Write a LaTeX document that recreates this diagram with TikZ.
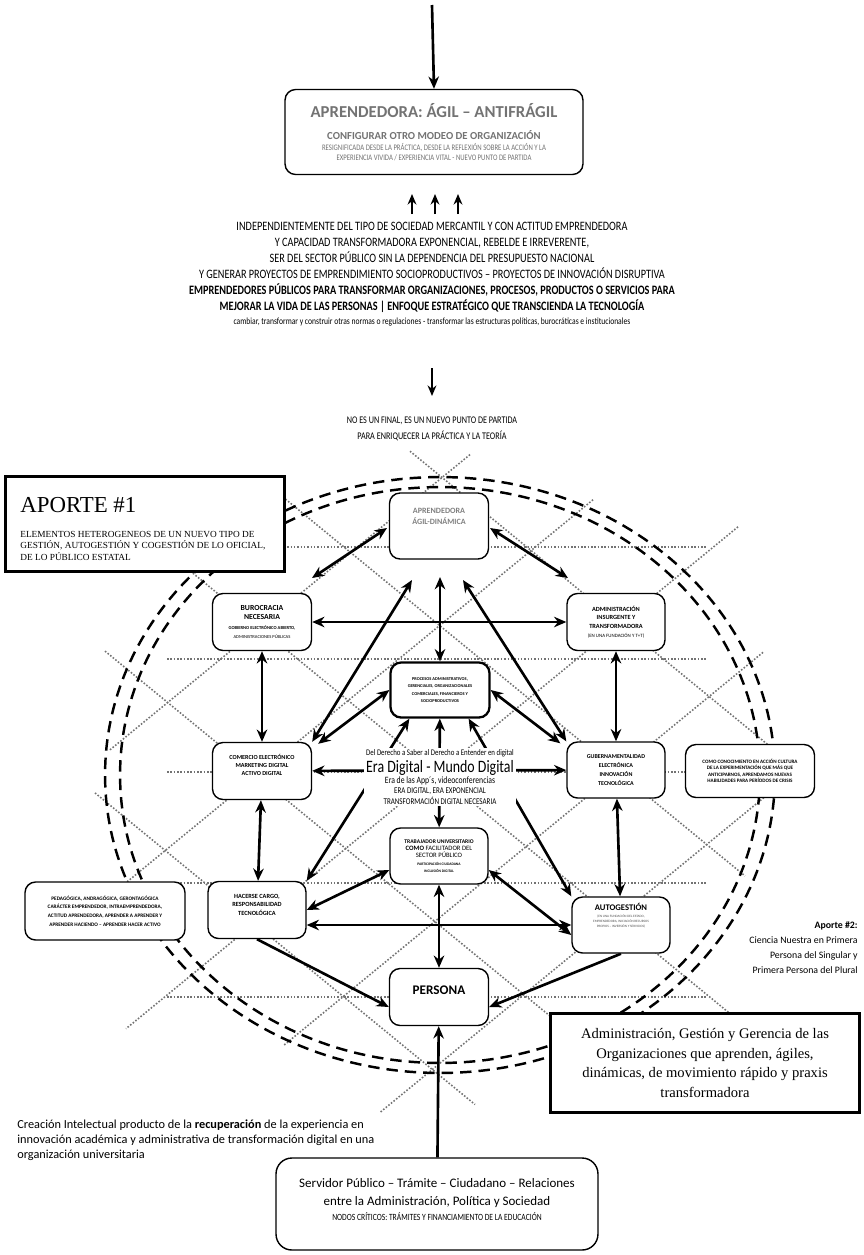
\documentclass[tikz,border=0pt]{standalone}
\usepackage{fontspec}
\usepackage{graphicx}
\setmainfont{Carlito}
\newfontfamily\serifw{Liberation Serif}
\usetikzlibrary{positioning,arrows.meta,backgrounds}
\newcommand{\fs}[2]{\fontsize{#1}{#2}\selectfont}
\newcommand{\sx}[1]{\scalebox{0.8}[1]{#1}}

\tikzset{
  box/.style={draw, rounded corners=6pt, fill=white, line width=0.8pt, align=center, inner sep=1pt},
  frame/.style={draw, fill=white, line width=1.7pt, inner sep=0pt},
  link/.style={{Stealth[length=7pt,width=6pt]}-{Stealth[length=7pt,width=6pt]}, line width=1.5pt},
  onelink/.style={-{Stealth[length=7pt,width=6pt]}, line width=1.5pt},
  grid/.style={densely dotted, line width=0.9pt, black!55},
  ring/.style={dash pattern=on 6.5pt off 4pt, line width=1.4pt},
}

\begin{document}
\begin{tikzpicture}[x=0.02cm, y=-0.02cm]
\useasboundingbox (0,0) rectangle (863,1255);

% Parte superior
\coordinate (start) at (432,5);
\node[box, minimum width=5.96cm, minimum height=1.7cm, text=black!55, font=\fs{4.8}{5.2}] (top) at (434,132) {%
  \bfseries\fs{9.5}{11}APRENDEDORA: ÁGIL – ANTIFRÁGIL\\[7pt]
  \bfseries\fs{6.1}{7}CONFIGURAR OTRO MODEO DE ORGANIZACIÓN\\[1.5pt]
  \sx{RESIGNIFICADA DESDE LA PRÁCTICA, DESDE LA REFLEXIÓN SOBRE LA ACCIÓN Y LA}\\
  \sx{EXPERIENCIA VIVIDA / EXPERIENCIA VITAL - NUEVO PUNTO DE PARTIDA}};
\draw[onelink] (start) -- (top.north);

\foreach \x in {412,435,458} {
  \draw[-{Stealth[length=6pt,width=5pt]}, line width=1.3pt] (\x,214) -- (\x,194);
}

\node[align=center, inner sep=0pt, font=\fs{7.3}{9.1}] (premisa) at (432,274) {%
  \sx{INDEPENDIENTEMENTE DEL TIPO DE SOCIEDAD MERCANTIL Y CON ACTITUD EMPRENDEDORA}\\
  \sx{Y CAPACIDAD TRANSFORMADORA EXPONENCIAL, REBELDE E IRREVERENTE,}\\
  \sx{SER DEL SECTOR PÚBLICO SIN LA DEPENDENCIA DEL PRESUPUESTO NACIONAL}\\
  \sx{Y GENERAR PROYECTOS DE EMPRENDIMIENTO SOCIOPRODUCTIVOS – PROYECTOS DE INNOVACIÓN DISRUPTIVA}\\
  \sx{\bfseries EMPRENDEDORES PÚBLICOS PARA TRANSFORMAR ORGANIZACIONES, PROCESOS, PRODUCTOS O SERVICIOS PARA}\\
  \sx{\bfseries MEJORAR LA VIDA DE LAS PERSONAS | ENFOQUE ESTRATÉGICO QUE TRANSCIENDA LA TECNOLOGÍA}\\[-1.5pt]
  \fs{5.4}{6.5}\sx{cambiar, transformar y construir otras normas o regulaciones - transformar las estructuras políticas, burocráticas e institucionales}};

\coordinate (bajaA) at (432,368);
\coordinate (bajaB) at (432,396);
\draw[-{Stealth[length=6pt,width=5pt]}, line width=1.3pt] (bajaA) -- (bajaB);

\node[align=center, inner sep=0pt, font=\fs{5.8}{9}] (final) at (432,429) {%
  \sx{NO ES UN FINAL, ES UN NUEVO PUNTO DE PARTIDA}\\\sx{PARA ENRIQUECER LA PRÁCTICA Y LA TEORÍA}};

% Nodos del diagrama
\node[box, minimum width=1.98cm, minimum height=1.32cm, text depth=11pt, text=black!50, font=\bfseries\fs{4.6}{5.8}] (agil) at (439,526) {%
  APRENDEDORA\\ÁGIL-DINÁMICA};
\node[box, minimum width=1.98cm, minimum height=1.14cm, font=\bfseries\fs{4.4}{5.4}] (buro) at (262,622) {%
  BUROCRACIA\\NECESARIA\\
  \fs{2.6}{4}GOBIERNO ELECTRÓNICO ABIERTO,\\\mdseries\fs{2.6}{4}ADMINISTRACIONES PÚBLICAS};
\node[box, minimum width=1.96cm, minimum height=1.14cm, font=\bfseries\fs{3.6}{5}] (insur) at (616,622) {%
  ADMINISTRACIÓN\\INSURGENTE Y\\TRANSFORMADORA\\
  \mdseries\fs{2.8}{4.5}(EN UNA FUNDACIÓN Y T+T)};
\node[box, line width=1.3pt, minimum width=1.98cm, minimum height=1.1cm, font=\bfseries\fs{2.5}{4.2}] (proc) at (440,690) {%
  PROCESOS ADMINISTRATIVOS,\\GERENCIALES, ORGANIZACIONALES\\COMERCIALES, FINANCIEROS Y\\SOCIOPRODUCTIVOS};
\node[box, minimum width=1.98cm, minimum height=1.14cm, text depth=7pt, font=\bfseries\fs{3.5}{4.6}] (comer) at (262,771) {%
  COMERCIO ELECTRÓNICO\\MARKETING DIGITAL\\ACTIVO DIGITAL};
\node[box, minimum width=1.96cm, minimum height=1.12cm, font=\bfseries\fs{3.4}{5}] (guber) at (616,770) {%
  GUBERNAMENTALIDAD\\ELECTRÓNICA\\INNOVACIÓN\\TECNOLÓGICA};
\node[box, minimum width=2.58cm, minimum height=1.06cm, font=\bfseries\fs{2.9}{3.6}] (crisis) at (750,771) {%
  COMO CONOCIMIENTO EN ACCIÓN CULTURA\\DE LA EXPERIMENTACIÓN QUE MÁS QUE\\ANTICIPARNOS, APRENDAMOS NUEVAS\\HABILIDADES PARA PERÍODOS DE CRISIS};
\node[box, minimum width=1.96cm, minimum height=1.12cm, font=\bfseries\fs{3.2}{4.2}] (trab) at (439,856) {%
  TRABAJADOR UNIVERSITARIO\\
  \fs{3.8}{4.6}COMO \mdseries FACILITADOR DEL\\\mdseries\fs{3.8}{4.6}SECTOR PÚBLICO\\
  \fs{2.1}{2.8}PARTICIPACIÓN CIUDADANA\\\fs{2.1}{2.8}INCLUSIÓN DIGITAL};
\node[box, minimum width=1.96cm, minimum height=1.14cm, text depth=6pt, font=\bfseries\fs{3.6}{5}] (cargo) at (257,910) {%
  HACERSE CARGO,\\RESPONSABILIDAD\\TECNOLÓGICA};
\node[box, minimum width=3.2cm, minimum height=1.16cm, font=\bfseries\fs{3}{5}] (pedag) at (105,911) {%
  PEDAGÓGICA, ANDRAGÓGICA, GERONTAGÓGICA\\CARÁCTER EMPRENDEDOR, INTRAEMPRENDEDORA,\\ACTITUD APRENDEDORA, APRENDER A APRENDER Y\\APRENDER HACIENDO – APRENDER HACER ACTIVO};
\node[box, minimum width=1.96cm, minimum height=1.12cm, text depth=11pt, text=black!70, font=\fs{1.9}{2.8}] (autog) at (621,925) {%
  \color{black}\bfseries\fs{4.9}{6}AUTOGESTIÓN\\[1pt]
  (EN UNA FUNDACIÓN DEL ESTADO,\\
  EMPRENDEDORA, INICIACIÓN RECURSOS\\
  PROPIOS – INVERSIÓN Y SERVICIOS)};
\node[box, minimum width=1.98cm, minimum height=1.14cm, text depth=8pt, font=\bfseries\fs{7.5}{9}] (persona) at (439,997) {%
  PERSONA};

% Textos de aportes
\node[frame, minimum width=5.6cm, minimum height=1.9cm] (aporte1) at (145,524) {};
\node[anchor=north west, align=left, inner sep=0pt, font=\serifw\fs{5.3}{6.6}] (aporte1t) at (20,497) {%
  \fs{13}{14}APORTE \#1\\[7.5pt]
  ELEMENTOS HETEROGENEOS DE UN NUEVO TIPO DE\\
  GESTIÓN, AUTOGESTIÓN Y COGESTIÓN DE LO OFICIAL,\\
  DE LO PÚBLICO ESTATAL};
\node[anchor=north east, align=right, inner sep=0pt, font=\fs{5.6}{8.6}] (aporte2) at (858,921) {%
  \bfseries Aporte \#2:\\Ciencia Nuestra en Primera\\Persona del Singular y\\Primera Persona del Plural};
\node[frame, minimum width=6.2cm, minimum height=1.98cm, align=center, font=\serifw\fs{8.3}{11.2}] (gerencia) at (705,1063) {%
  Administración, Gestión y Gerencia de las\\Organizaciones que aprenden, ágiles,\\dinámicas, de movimiento rápido y praxis\\transformadora};
\node[anchor=north west, align=left, inner sep=0pt, font=\fs{7}{8.5}] (creacion) at (17,1120) {%
  Creación Intelectual producto de la {\bfseries recuperación} de la experiencia en\\
  innovación académica y administrativa de transformación digital en una\\
  organización universitaria};
\node[box, rounded corners=9pt, minimum width=6.44cm, minimum height=1.84cm, text depth=5pt, font=\fs{7.4}{10.5}] (servidor) at (437,1204) {%
  Servidor Público – Trámite – Ciudadano – Relaciones\\
  entre la Administración, Política y Sociedad\\[-2pt]
  \fs{5.4}{6}\sx{NODOS CRÍTICOS: TRÁMITES Y FINANCIAMIENTO DE LA EDUCACIÓN}};

% Texto central
\node[fill=white, align=center, inner sep=1pt, font=\fs{5}{6}] (era) at (440,777) {%
  \fs{4.9}{6}\sx{Del Derecho a Saber al Derecho a Entender en digital}\\[1pt]
  \fs{9.9}{11}\sx{Era Digital - Mundo Digital}\\
  \fs{5.5}{6.5}\sx{Era de las App´s, videoconferencias}\\
  \sx{ERA DIGITAL, ERA EXPONENCIAL}\\
  \sx{TRANSFORMACIÓN DIGITAL NECESARIA}};

\begin{scope}[on background layer]
  % Retícula punteada
  \foreach \yy in {547,659,772,883,997}
    \draw[grid] (167,\yy) -- (707,\yy);
  \foreach \c/\xa/\xb in {115/410/775, 265/270/745, 415/180/740, 565/105/600, 715/95/475}
    \draw[grid] (\xa,{0.82*\xa+\c}) -- (\xb,{0.82*\xb+\c});
  \foreach \d/\xa/\xb in {840/470/110, 986/593/120, 1132/738/126, 1278/763/283, 1424/800/380}
    \draw[grid] (\xa,{\d-0.82*\xa}) -- (\xb,{\d-0.82*\xb});
  % Elipses discontinuas
  \draw[ring] (440,775) ellipse [x radius=6.7cm, y radius=5.96cm];
  \draw[ring] (440,775) ellipse [x radius=6.4cm, y radius=5.76cm];
  % Conexiones
  \coordinate (a1) at (387,528);
  \coordinate (a2) at (412,580);
  \coordinate (a3) at (440,577);
  \coordinate (a4) at (463,580);
  \coordinate (a5) at (490,528);
  \coordinate (b1) at (312,578);
  \coordinate (b2) at (568,578);
  \draw[link] (a1) -- (b1);
  \draw[link] (a5) -- (b2);
  \draw[link] (a3) -- (proc.north);
  \draw[link] (a2) -- (comer.north east);
  \draw[link] (a4) -- (guber.north west);
  \draw[link] (buro) -- (insur);
  \draw[link] (buro) -- (comer);
  \draw[link] (insur) -- (guber);
  \draw[link] (comer.north east) ++(6,2) coordinate (c1) (c1) -- (proc.west);
  \draw[link] (guber.north west) ++(-6,2) coordinate (g1) (g1) -- (proc.east);
  \draw[link] (comer) -- (guber);
  \draw[link] (proc) -- (trab);
  \draw[link] (proc.south west) ++(20,0) coordinate (p1) (p1) -- (cargo.north east);
  \draw[link] (proc.south east) ++(-22,0) coordinate (p2) (p2) -- (autog.north west);
  \draw[link] (comer) -- (cargo);
  \draw[link] (guber) -- (autog);
  \draw[link] (trab.west) ++(0,14) coordinate (t1) (t1) -- (cargo.east);
  \draw[link] (trab.east) ++(0,14) coordinate (t2) (t2) -- ([yshift=-0.2cm]autog.west);
  \draw[link] (autog.west) -- (autog.west -| cargo.east);
  \draw[link] (trab) -- (persona);
  \draw[onelink] (cargo.south) -- ([yshift=-0.2cm]persona.west);
  \draw[onelink] (autog.south) -- ([yshift=-0.2cm]persona.east);
  \draw[onelink] (servidor) -- (persona);
\end{scope}
\end{tikzpicture}
\end{document}
